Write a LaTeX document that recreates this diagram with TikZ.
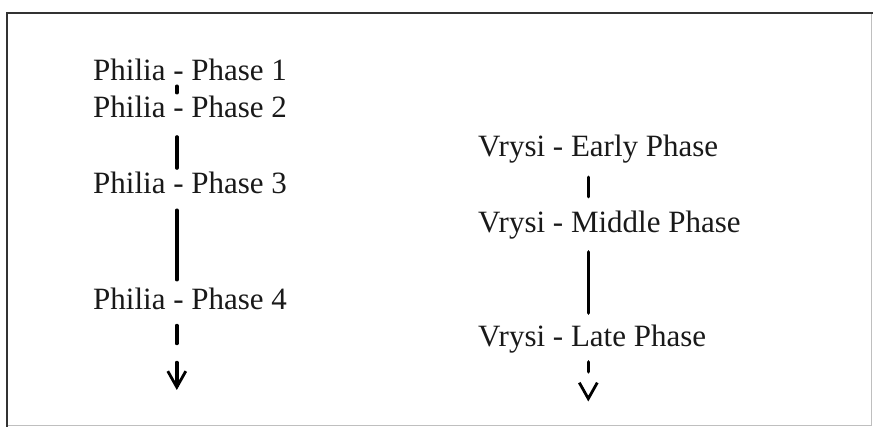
\documentclass[tikz,border=0pt]{standalone}
\usepackage{fontspec}
\setmainfont{Liberation Serif}
\usetikzlibrary{arrows.meta}
\begin{document}
\begin{tikzpicture}[x=1pt,y=1pt,
  phase/.style={anchor=base west, inner sep=0pt, text height=21pt, text depth=0pt,
    text=black!90, font=\fontsize{31}{36}\selectfont},
  link/.style={line width=3.4pt, line cap=round},
  headv/.style={-{Straight Barb[length=16pt,width=18pt,line width=2.8pt]}}]
  \useasboundingbox (0,0) rectangle (873,-427);
  % frame
  \draw[black!25, line width=1.2pt] (871.5,-13) -- (871.5,-425.5) -- (7,-425.5);
  \draw[black!80, line width=2pt] (7,-427) -- (7,-13) -- (873,-13);

  % Philia sequence
  \node[phase] (p1) at (93,-80.7) {Philia - Phase 1};
  \node[phase] (p2) at (93,-117.3) {Philia - Phase 2};
  \node[phase] (p3) at (93,-193.3) {Philia - Phase 3};
  \node[phase] (p4) at (93,-309.3) {Philia - Phase 4};
  \coordinate (pc) at (176.8,0);
  \coordinate (p4end) at (176.8,-390);

  \draw[link, shorten <=5.3pt, shorten >=3.3pt] (p1.south -| pc) -- (p2.north -| pc);
  \draw[link, shorten <=19.4pt, shorten >=4pt] (p2.south -| pc) -- (p3.north -| pc);
  \draw[link, shorten <=16.7pt, shorten >=8.3pt] (p3.south -| pc) -- (p4.north -| pc);
  \draw[link, headv, dash pattern=on 18pt off 19pt on 60pt, shorten <=16pt]
    (p4.south -| pc) -- (p4end);

  % Vrysi sequence
  \node[phase] (v1) at (478,-156.7) {Vrysi - Early Phase};
  \node[phase] (v2) at (478,-232.7) {Vrysi - Middle Phase};
  \node[phase] (v3) at (478,-346.7) {Vrysi - Late Phase};
  \coordinate (vc) at (588.3,0);
  \coordinate (v3end) at (588.3,-401.5);

  \draw[link, shorten <=20.3pt, shorten >=14.7pt] (v1.south -| vc) -- (v2.north -| vc);
  \draw[link, shorten <=19pt, shorten >=12.4pt] (v2.south -| vc) -- (v3.north -| vc);
  \draw[link, headv, dash pattern=on 10pt off 40pt, shorten <=15pt]
    (v3.south -| vc) -- (v3end);
\end{tikzpicture}
\end{document}
